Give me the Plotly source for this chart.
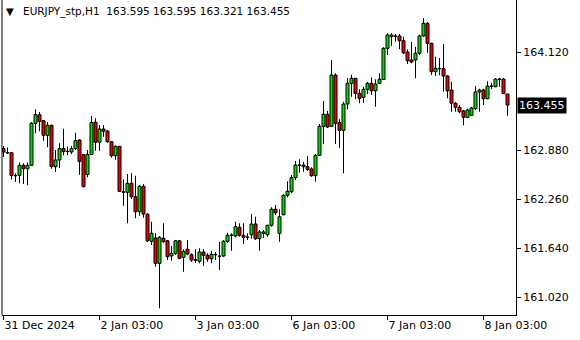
import plotly.graph_objects as go

symbol = "EURJPY_stp"
timeframe = "H1"

bar_index = list(range(127))

opens = [162.905,162.854,162.852,162.563,162.566,162.692,162.649,162.692,163.224,163.333,
         163.257,163.072,163.199,162.675,162.760,162.903,162.870,162.861,162.903,163.013,
         162.827,162.576,162.829,163.237,162.984,163.152,163.126,162.991,162.814,162.933,
         162.358,162.351,162.465,162.295,162.105,162.427,162.073,161.731,161.773,161.452,
         161.769,161.738,161.545,161.579,161.738,161.528,161.630,161.561,161.498,161.478,
         161.595,161.554,161.511,161.564,161.545,161.545,161.731,161.807,161.798,161.908,
         161.807,161.781,161.814,161.950,161.764,161.832,161.814,161.933,162.136,161.832,
         162.067,162.313,162.358,162.536,162.696,162.696,162.675,162.646,162.561,162.819,
         163.186,163.338,163.186,163.835,163.232,163.135,163.468,163.730,163.793,163.603,
         163.553,163.654,163.730,163.636,163.730,163.778,164.173,164.320,164.329,164.329,
         164.269,164.126,164.025,164.025,164.110,164.329,164.489,164.236,163.877,163.917,
         163.915,163.822,163.645,163.477,163.426,163.380,163.300,163.325,163.409,163.620,
         163.645,163.535,163.696,163.687,163.784,163.784,163.595]

highs = [162.937,162.918,162.861,162.589,162.728,162.718,162.728,163.240,163.401,163.367,
         163.266,163.240,163.206,162.886,162.971,163.156,162.928,162.937,163.105,163.021,
         162.835,162.886,163.316,163.287,163.202,163.202,163.139,163.000,162.943,162.937,
         162.515,162.582,162.591,162.561,162.443,162.456,162.085,161.979,161.832,161.798,
         161.959,161.747,161.671,161.747,161.747,161.630,161.747,161.579,161.630,161.642,
         161.630,161.579,161.612,161.595,161.726,161.747,161.840,161.832,161.979,161.959,
         161.959,161.832,162.076,162.042,161.874,161.874,161.941,162.161,162.190,162.136,
         162.326,162.490,162.570,162.747,162.768,162.738,162.810,162.667,162.835,163.215,
         163.506,163.380,164.025,163.857,163.275,163.497,163.797,163.839,163.797,163.654,
         163.687,163.746,163.806,163.781,163.857,164.186,164.363,164.363,164.354,164.354,
         164.320,164.160,164.253,164.193,164.345,164.556,164.506,164.244,164.067,164.050,
         164.227,163.831,163.750,163.493,163.455,163.392,163.409,163.434,163.696,163.662,
         163.662,163.755,163.738,163.797,163.801,163.797,163.595]

lows = [162.798,162.835,162.513,162.481,162.465,162.456,162.439,162.684,163.097,163.123,
        163.004,162.920,162.649,162.608,162.658,162.819,162.819,162.835,162.886,162.574,
        162.412,162.541,162.823,162.877,162.877,163.054,162.978,162.789,162.763,162.355,
        162.181,161.959,162.266,162.022,162.055,162.029,161.722,161.684,161.409,160.883,
        161.713,161.494,161.485,161.558,161.503,161.346,161.554,161.473,161.460,161.452,
        161.418,161.473,161.452,161.494,161.368,161.536,161.713,161.612,161.781,161.789,
        161.697,161.747,161.764,161.747,161.612,161.773,161.789,161.916,162.064,161.726,
        162.060,162.288,162.342,162.506,162.599,162.611,162.624,162.548,162.485,162.810,
        162.962,163.164,163.181,162.962,162.915,162.591,163.401,163.560,163.528,163.477,
        163.485,163.595,163.582,163.434,163.721,163.772,164.088,164.202,164.256,164.160,
        164.101,163.974,163.983,163.793,164.088,164.320,164.117,163.835,163.822,163.831,
        163.624,163.540,163.371,163.371,163.350,163.199,163.287,163.316,163.392,163.371,
        163.455,163.528,163.654,163.679,163.687,163.595,163.321]

closes = [162.861,162.848,162.563,162.560,162.692,162.649,162.692,163.224,163.333,163.249,
          163.072,163.199,162.675,162.760,162.903,162.865,162.867,162.903,163.004,162.743,
          162.422,162.829,163.234,162.984,163.152,163.123,162.991,162.814,162.933,162.364,
          162.351,162.465,162.295,162.105,162.427,162.076,161.738,161.832,161.452,161.781,
          161.726,161.536,161.579,161.738,161.516,161.604,161.570,161.494,161.490,161.595,
          161.554,161.507,161.566,161.560,161.541,161.731,161.807,161.811,161.916,161.807,
          161.781,161.785,161.950,161.764,161.849,161.849,161.933,162.136,162.093,162.042,
          162.313,162.364,162.536,162.696,162.692,162.675,162.642,162.561,162.819,163.186,
          163.338,163.177,163.835,163.224,163.135,163.468,163.730,163.793,163.603,163.540,
          163.654,163.730,163.636,163.721,163.781,164.173,164.341,164.341,164.325,164.269,
          164.117,164.016,164.000,164.110,164.329,164.489,164.236,163.877,163.920,163.914,
          163.822,163.636,163.477,163.426,163.371,163.300,163.392,163.418,163.620,163.645,
          163.535,163.696,163.692,163.784,163.781,163.600,163.455]

time_tick_bars = [0, 24, 48, 72, 96, 120]
time_tick_labels = ["31 Dec 2024", "2 Jan 03:00", "3 Jan 03:00", "6 Jan 03:00", "7 Jan 03:00", "8 Jan 03:00"]
price_ticks = [161.020, 161.640, 162.260, 162.880, 164.120]

FONT = "DejaVu Sans"
BULL = "#00E000"
BEAR = "#F00000"

body_base = [min(o, c) for o, c in zip(opens, closes)]
body_len = [abs(c - o) for o, c in zip(opens, closes)]
body_col = [BULL if c >= o else BEAR for o, c in zip(opens, closes)]
wick_len = [h - l for h, l in zip(highs, lows)]

fig = go.Figure()
# wicks
fig.add_trace(go.Bar(
    x=bar_index, y=wick_len, base=lows, width=0.25,
    marker=dict(color="black", line=dict(width=0)),
    showlegend=False, hoverinfo="skip",
))
# bodies
fig.add_trace(go.Bar(
    x=bar_index, y=body_len, base=body_base, width=0.75,
    marker=dict(color=body_col, line=dict(color="black", width=1)),
    showlegend=False, hoverinfo="skip",
))

fig.update_layout(
    width=580, height=340,
    margin=dict(l=2, r=64, t=0, b=25),
    paper_bgcolor="white", plot_bgcolor="white",
    barmode="overlay",
    font=dict(family=FONT, size=11, color="black"),
    xaxis=dict(
        range=[-0.375, 128.125],
        tickmode="array", tickvals=time_tick_bars, ticktext=time_tick_labels,
        ticks="outside", ticklen=4, tickcolor="black", tickwidth=1,
        ticklabelposition="outside right",
        showline=True, linecolor="black", linewidth=1,
        showgrid=False, zeroline=False, fixedrange=True,
        tickfont=dict(family=FONT, size=11, color="black"),
    ),
    yaxis=dict(
        side="right", range=[160.7985, 164.784],
        tickmode="array", tickvals=price_ticks,
        ticktext=[f"{v:.3f}" for v in price_ticks],
        ticks="outside", ticklen=4, tickcolor="black", tickwidth=1,
        showline=True, linecolor="black", linewidth=1,
        showgrid=False, zeroline=False, fixedrange=True,
        tickfont=dict(family=FONT, size=11, color="black"),
    ),
)

# left frame line
fig.add_shape(type="line", xref="paper", yref="paper", x0=0, x1=0, y0=0, y1=1,
              line=dict(color="black", width=1))

# header text
o, h, l, c = opens[-1], highs[-1], lows[-1], closes[-1]
fig.add_annotation(xref="paper", yref="paper", x=0.004, y=0.962, xanchor="left", yanchor="middle",
                   text="▼", showarrow=False, font=dict(family=FONT, size=10, color="black"))
fig.add_annotation(xref="paper", yref="paper", x=0.036, y=0.962, xanchor="left", yanchor="middle",
                   text=f"{symbol},{timeframe}  {o:.3f} {h:.3f} {l:.3f} {c:.3f}",
                   showarrow=False, font=dict(family=FONT, size=10.5, color="black"))

# current price label
fig.add_annotation(xref="paper", yref="y", x=1, y=c, xanchor="left", yanchor="middle",
                   text=f"{c:.3f}", showarrow=False, bgcolor="black", borderpad=1,
                   font=dict(family=FONT, size=11, color="white"), xshift=1)

fig.write_html("out.html")
